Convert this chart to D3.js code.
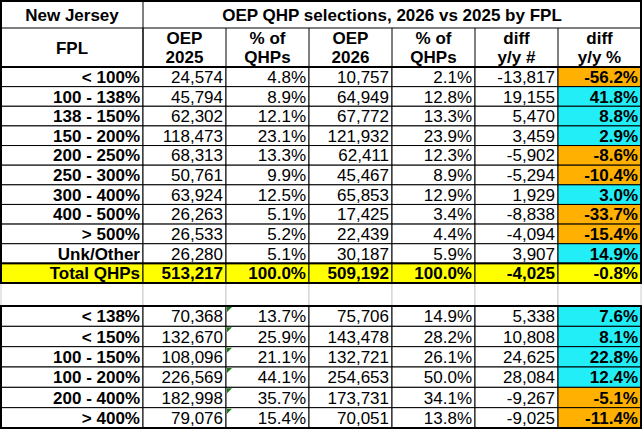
<!DOCTYPE html>
<html><head><meta charset="utf-8">
<script src="https://cdn.jsdelivr.net/npm/d3@7"></script>
<style>
body{margin:0;background:#fff}
text{font-family:"Liberation Sans Narrow","Arial Narrow","Liberation Sans",sans-serif;font-size:17px}
</style></head><body>
<div id="chart"></div>
<script>
// data
var fplTop = ["< 100%","100 - 138%","138 - 150%","150 - 200%","200 - 250%","250 - 300%","300 - 400%","400 - 500%","> 500%","Unk/Other","Total QHPs"];
var oep2025Top = [24574,45794,62302,118473,68313,50761,63924,26263,26533,26280,513217];
var pct2025Top = [4.8,8.9,12.1,23.1,13.3,9.9,12.5,5.1,5.2,5.1,100.0];
var oep2026Top = [10757,64949,67772,121932,62411,45467,65853,17425,22439,30187,509192];
var pct2026Top = [2.1,12.8,13.3,23.9,12.3,8.9,12.9,3.4,4.4,5.9,100.0];
var diffTop = [-13817,19155,5470,3459,-5902,-5294,1929,-8838,-4094,3907,-4025];
var diffPctTop = [-56.2,41.8,8.8,2.9,-8.6,-10.4,3.0,-33.7,-15.4,14.9,-0.8];

var fplBot = ["< 138%","< 150%","100 - 150%","100 - 200%","200 - 400%","> 400%"];
var oep2025Bot = [70368,132670,108096,226569,182998,79076];
var pct2025Bot = [13.7,25.9,21.1,44.1,35.7,15.4];
var oep2026Bot = [75706,143478,132721,254653,173731,70051];
var pct2026Bot = [14.9,28.2,26.1,50.0,34.1,13.8];
var diffBot = [5338,10808,24625,28084,-9267,-9025];
var diffPctBot = [7.6,8.1,22.8,12.4,-5.1,-11.4];

var headers = [["FPL"],["OEP","2025"],["% of","QHPs"],["OEP","2026"],["% of","QHPs"],["diff","y/y #"],["diff","y/y %"]];

var W = 643, H = 432;
var colEdges = [1,143,226,309,392,475,558,641];
var svg = d3.select("#chart").append("svg").attr("width",W).attr("height",H);

var loc = d3.formatLocale({decimal:".",thousands:",",grouping:[3],currency:["$",""],minus:"-"});
var fmtN = loc.format(",");
var fmtP = function(v){ return v.toFixed(1) + "%"; };
var orange = "#ffb000", cyan = "#22eef8", yellow = "#ffff00";

function rowsOf(f,a,b,c,d,e,g){
  return f.map(function(_,i){ return [f[i],fmtN(a[i]),fmtP(b[i]),fmtN(c[i]),fmtP(d[i]),fmtN(e[i]),fmtP(g[i]),g[i]]; });
}
var topRows = rowsOf(fplTop,oep2025Top,pct2025Top,oep2026Top,pct2026Top,diffTop,diffPctTop);
var botRows = rowsOf(fplBot,oep2025Bot,pct2025Bot,oep2026Bot,pct2026Bot,diffBot,diffPctBot);

var yTop = d3.scaleBand().domain(d3.range(topRows.length)).range([67,283]);
var yBot = d3.scaleBand().domain(d3.range(botRows.length)).range([306,428]);

function drawRows(rows, y, greenTri){
  var g = svg.append("g");
  rows.forEach(function(r,i){
    var total = r[0] === "Total QHPs";
    var y0 = y(i), h = y.bandwidth();
    for (var c = 0; c < 7; c++){
      var fill = total ? yellow : "#fff";
      if (c === 6 && !total) fill = r[7] < 0 ? orange : cyan;
      g.append("rect").attr("x",colEdges[c]).attr("y",y0).attr("width",colEdges[c+1]-colEdges[c]).attr("height",h)
        .attr("fill",fill).attr("stroke","#000").attr("stroke-width",1);
      if (greenTri && c === 2){
        g.append("path").attr("d","M"+(colEdges[c]+1)+","+(y0+1)+"h5l-5,5z").attr("fill","#1a7a1a");
      }
      g.append("text").attr("x",colEdges[c+1]-3).attr("y",y0+h/2).attr("dy","0.36em")
        .attr("text-anchor","end")
        .attr("font-weight",(c===0||c===6||total)?"bold":"normal")
        .text(r[c]);
    }
  });
}

// header
svg.append("rect").attr("x",1).attr("y",1).attr("width",640).attr("height",66).attr("fill","#fff").attr("stroke","#000");
svg.append("line").attr("x1",1).attr("x2",641).attr("y1",28).attr("y2",28).attr("stroke","#000");
svg.append("line").attr("x1",143).attr("x2",143).attr("y1",1).attr("y2",67).attr("stroke","#000");
svg.append("text").attr("x",72).attr("y",15).attr("dy","0.36em").attr("text-anchor","middle").attr("font-weight","bold").attr("font-size",19).text("New Jersey");
svg.append("text").attr("x",392).attr("y",15).attr("dy","0.36em").attr("text-anchor","middle").attr("font-weight","bold").attr("font-size",19).text("OEP QHP selections, 2026 vs 2025 by FPL");
headers.forEach(function(hd,c){
  var cx = (colEdges[c]+colEdges[c+1])/2;
  if (c>0) svg.append("line").attr("x1",colEdges[c]).attr("x2",colEdges[c]).attr("y1",28).attr("y2",67).attr("stroke","#000");
  hd.forEach(function(t,k){
    var yy = hd.length === 1 ? 48 : 38 + k*19;
    svg.append("text").attr("x",cx).attr("y",yy).attr("dy","0.36em").attr("text-anchor","middle").attr("font-weight","bold").text(t);
  });
});

drawRows(topRows, yTop, false);

// blank row
for (var c = 0; c < 7; c++){
  svg.append("rect").attr("x",colEdges[c]).attr("y",283).attr("width",colEdges[c+1]-colEdges[c]).attr("height",23)
    .attr("fill","#fff").attr("stroke","#ccc");
}
drawRows(botRows, yBot, true);

// thick outlines
[[1,1,640,282],[1,306,640,122]].forEach(function(b){
  svg.append("rect").attr("x",b[0]).attr("y",b[1]).attr("width",b[2]).attr("height",b[3]).attr("fill","none").attr("stroke","#000").attr("stroke-width",2);
});
svg.append("line").attr("x1",1).attr("x2",641).attr("y1",67).attr("y2",67).attr("stroke","#000").attr("stroke-width",2);
svg.append("rect").attr("x",1).attr("y",yTop(10)).attr("width",640).attr("height",yTop.bandwidth()).attr("fill","none").attr("stroke","#000").attr("stroke-width",2);
</script></body></html>
